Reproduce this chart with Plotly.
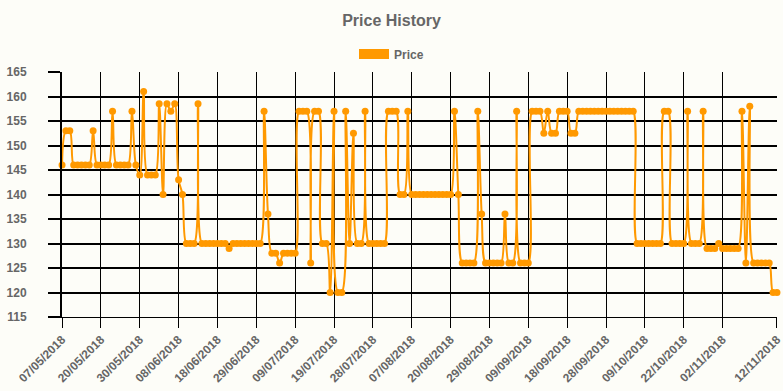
import plotly.graph_objects as go

prices = [
    146, 153, 153, 146, 146, 146, 146, 146, 153, 146,
    146, 146, 146, 157, 146, 146, 146, 146, 157, 146,
    144, 161, 144, 144, 144, 158.5, 140, 158.5, 157, 158.5,
    143, 140, 130, 130, 130, 158.5, 130, 130, 130, 130,
    130, 130, 130, 129, 130, 130, 130, 130, 130, 130,
    130, 130, 157, 136, 128, 128, 126, 128, 128, 128,
    128, 157, 157, 157, 126, 157, 157, 130, 130, 120,
    157, 120, 120, 157, 130, 152.5, 130, 130, 157, 130,
    130, 130, 130, 130, 157, 157, 157, 140, 140, 157,
    140, 140, 140, 140, 140, 140, 140, 140, 140, 140,
    140, 157, 140, 126, 126, 126, 126, 157, 136, 126,
    126, 126, 126, 126, 136, 126, 126, 157, 126, 126,
    126, 157, 157, 157, 152.5, 157, 152.5, 152.5, 157, 157,
    157, 152.5, 152.5, 157, 157, 157, 157, 157, 157, 157,
    157, 157, 157, 157, 157, 157, 157, 157, 130, 130,
    130, 130, 130, 130, 130, 157, 157, 130, 130, 130,
    130, 157, 130, 130, 130, 157, 129, 129, 129, 130,
    129, 129, 129, 129, 129, 157, 126, 158, 126, 126,
    126, 126, 126, 120, 120,
]

date_labels = [
    "07/05/2018", "20/05/2018", "30/05/2018", "08/06/2018", "18/06/2018",
    "29/06/2018", "09/07/2018", "19/07/2018", "28/07/2018", "07/08/2018",
    "20/08/2018", "29/08/2018", "09/09/2018", "18/09/2018", "28/09/2018",
    "09/10/2018", "22/10/2018", "02/11/2018", "12/11/2018",
]

y_ticks = [115, 120, 125, 130, 135, 140, 145, 150, 155, 160, 165]

series_name = "Price"
color = "#FF9900"

n = len(prices)
idx = list(range(n))
label_step = 10
tickvals = list(range(0, label_step * (len(date_labels) - 1), label_step)) + [n - 1]

fig = go.Figure()
fig.add_trace(go.Scatter(
    x=idx, y=prices, mode="lines+markers", name=series_name, showlegend=False,
    line=dict(color=color, width=2, shape="spline", smoothing=1),
    marker=dict(color=color, size=7), cliponaxis=False,
))
# legend swatch
fig.add_trace(go.Scatter(
    x=[None], y=[None], mode="lines", name=series_name,
    line=dict(color=color, width=12),
))

lab_font = dict(family="Liberation Sans, Arial", size=12, color="#666666", weight="bold")

fig.update_layout(
    width=783, height=391,
    paper_bgcolor="#fdfdf8", plot_bgcolor="#fdfdf8",
    margin=dict(l=62, r=6, t=72, b=74, autoexpand=False),
    title=dict(text="Price History", x=0.5, xref="container", xanchor="center",
               y=1 - 20 / 391, yref="container", yanchor="middle",
               font=dict(family="Liberation Sans, Arial", size=16, color="#666666", weight="bold")),
    legend=dict(orientation="h", x=0.5, xref="container", xanchor="center",
                y=1 - 54 / 391, yref="container", yanchor="middle",
                font=lab_font, bgcolor="rgba(0,0,0,0)"),
    showlegend=True,
)
fig.update_xaxes(
    range=[-0.01, n - 1 + 0.01], tickmode="array", tickvals=tickvals, ticktext=date_labels,
    tickangle=-45, tickfont=lab_font, ticklabeloverflow="allow",
    showgrid=True, gridcolor="black", gridwidth=1,
    ticks="outside", ticklen=10, tickcolor="black", tickwidth=1,
    showline=True, linecolor="black", linewidth=1, zeroline=False,
)
fig.update_yaxes(
    range=[115, 165], tickmode="array", tickvals=y_ticks, tickfont=lab_font,
    showgrid=False,
    minor=dict(tickmode="array", tickvals=y_ticks[1:], showgrid=True,
               gridcolor="black", gridwidth=2, ticks=""),
    ticks="outside", ticklen=12, tickcolor="black", tickwidth=2,
    showline=True, linecolor="black", linewidth=2, zeroline=False,
    ticklabelstandoff=19,
)

fig.write_html("out.html", config={"displayModeBar": False},
               post_script="document.body.style.margin='0';")
